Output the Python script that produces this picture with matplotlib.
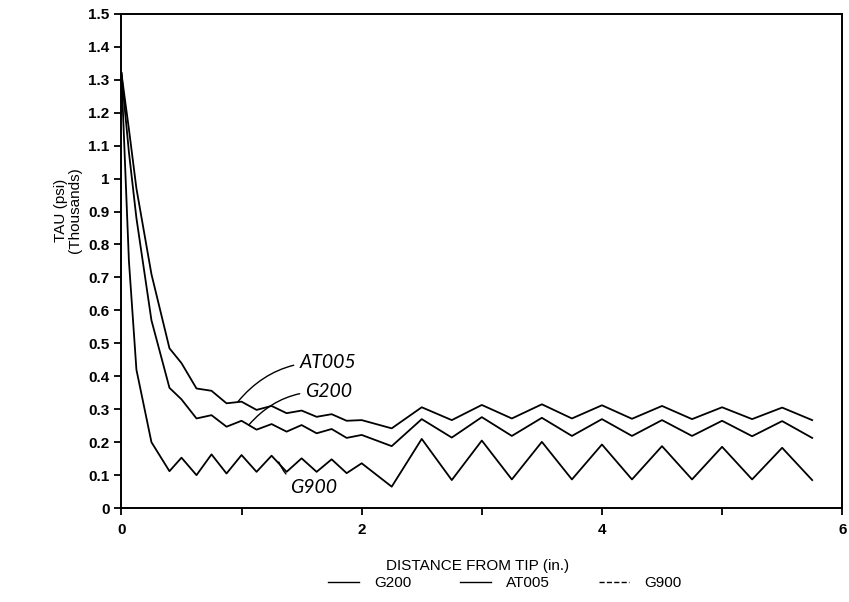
import matplotlib
matplotlib.use("Agg")
import matplotlib.pyplot as plt
from matplotlib.lines import Line2D
from matplotlib.ticker import MultipleLocator, FuncFormatter

# distance from tip (in.)
distance = [0, 0.0625, 0.125, 0.25, 0.4, 0.5, 0.625, 0.75, 0.875, 1.0, 1.125,
            1.25, 1.375, 1.5, 1.625, 1.75, 1.875, 2.0, 2.25, 2.5, 2.75, 3.0,
            3.25, 3.5, 3.75, 4.0, 4.25, 4.5, 4.75, 5.0, 5.25, 5.5, 5.75]

# TAU (psi, thousands)
g200 = [1.32, 1.08, 0.88, 0.57, 0.365, 0.33, 0.272, 0.282, 0.247, 0.265, 0.238,
        0.255, 0.232, 0.252, 0.227, 0.24, 0.213, 0.222, 0.188, 0.27, 0.214, 0.276,
        0.219, 0.274, 0.219, 0.27, 0.219, 0.267, 0.219, 0.265, 0.218, 0.264, 0.213]
at005 = [1.32, 1.15, 0.97, 0.71, 0.485, 0.44, 0.363, 0.356, 0.318, 0.323, 0.298,
         0.31, 0.288, 0.296, 0.277, 0.285, 0.265, 0.267, 0.242, 0.306, 0.267, 0.313,
         0.272, 0.315, 0.272, 0.312, 0.271, 0.31, 0.27, 0.306, 0.27, 0.305, 0.267]
g900 = [1.32, 0.75, 0.42, 0.20, 0.112, 0.153, 0.10, 0.163, 0.105, 0.161, 0.11,
        0.159, 0.11, 0.151, 0.11, 0.148, 0.106, 0.136, 0.065, 0.21, 0.085, 0.205,
        0.087, 0.201, 0.087, 0.193, 0.087, 0.188, 0.087, 0.186, 0.087, 0.183, 0.085]

series = {"G200": g200, "AT005": at005, "G900": g900}
legend_styles = {"G200": "-", "AT005": "-", "G900": "--"}

plt.rcParams["font.family"] = ["Liberation Sans", "DejaVu Sans"]

fig = plt.figure(figsize=(8.49, 6.02), dpi=100)
ax = fig.add_axes([0.143, 0.156, 0.849, 0.821])

for name, vals in series.items():
    ax.plot(distance, vals, color="black", lw=1.3)

ax.set_xlim(0, 6)
ax.set_ylim(0, 1.5)
ax.xaxis.set_major_locator(MultipleLocator(2))
ax.xaxis.set_minor_locator(MultipleLocator(1))
ax.yaxis.set_major_locator(MultipleLocator(0.1))
ax.yaxis.set_major_formatter(FuncFormatter(lambda v, p: f"{v:g}" if abs(v) > 1e-9 else "0"))
ax.tick_params(which="both", direction="out", length=5, width=1.3,
               top=False, right=False, labelsize=11)
ax.tick_params(axis="x", pad=6)
for lbl in ax.get_xticklabels() + ax.get_yticklabels():
    lbl.set_fontweight("bold")
for sp in ax.spines.values():
    sp.set_linewidth(1.4)

# hand-written curve labels with leaders
hand = dict(fontsize=14, style="italic", family=["Lato", "DejaVu Sans"])
ax.annotate("AT005", xy=(0.97, 0.323), xytext=(1.48, 0.443), va="center", **hand,
            arrowprops=dict(arrowstyle="-", color="black", lw=1.0,
                            connectionstyle="arc3,rad=0.25", shrinkA=2, shrinkB=0))
ax.annotate("G200", xy=(1.06, 0.252), xytext=(1.53, 0.353), va="center", **hand,
            arrowprops=dict(arrowstyle="-", color="black", lw=1.0,
                            connectionstyle="arc3,rad=0.25", shrinkA=2, shrinkB=0))
ax.annotate("G900", xy=(1.31, 0.14), xytext=(1.40, 0.063), va="center", **hand,
            arrowprops=dict(arrowstyle="-", color="black", lw=1.0,
                            connectionstyle="arc3,rad=-0.3", shrinkA=2, shrinkB=0))

fig.text(0.08, 1 - 210 / 602, "TAU (psi)\n(Thousands)", rotation=90,
         ha="center", va="center", fontsize=11, linespacing=1.0)
fig.text(0.563, 1 - 566 / 602, "DISTANCE FROM TIP (in.)", ha="center", va="center",
         fontsize=11)

handles = [Line2D([], [], color="black", lw=1.0, ls=legend_styles[n]) for n in series]
fig.legend(handles, list(series.keys()), loc="center", ncol=3, frameon=False,
           bbox_to_anchor=(0.595, 1 - 583 / 602), fontsize=11, handlelength=2.0,
           columnspacing=3.2, handletextpad=1.0)

fig.savefig("out.png", dpi=100)
